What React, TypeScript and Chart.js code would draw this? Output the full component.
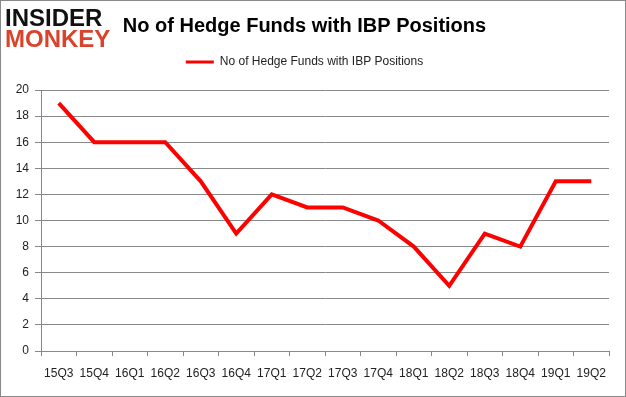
import React, { useEffect, useRef } from "react";
import { Chart, registerables } from "chart.js";

Chart.register(...registerables);

const categories = ["15Q3", "15Q4", "16Q1", "16Q2", "16Q3", "16Q4", "17Q1", "17Q2", "17Q3", "17Q4", "18Q1", "18Q2", "18Q3", "18Q4", "19Q1", "19Q2"];
const hedgeFunds = [19, 16, 16, 16, 13, 9, 12, 11, 11, 10, 8, 5, 9, 8, 13, 13];
const seriesLabel = "No of Hedge Funds with IBP Positions";
const titleText = "No of Hedge Funds with IBP Positions";

const FONT = "'Liberation Sans', Arial, sans-serif";

export default function App() {
  const ref = useRef<HTMLCanvasElement | null>(null);

  useEffect(() => {
    if (!ref.current) return;
    const legendPatch = {
      id: "legendPatch",
      afterInit(chart: any) {
        const lg = chart.legend;
        if (lg && !lg.__patched) {
          const orig = lg.fit.bind(lg);
          lg.fit = function () {
            orig();
            this.height = 44;
          };
          lg.__patched = true;
        }
      },
    };
    const chart = new Chart(ref.current, {
      type: "line",
      data: {
        labels: categories,
        datasets: [
          {
            label: seriesLabel,
            data: hedgeFunds,
            borderColor: "#ff0000",
            backgroundColor: "#ff0000",
            borderWidth: 4,
            pointRadius: 0,
            tension: 0,
            fill: false,
          },
        ],
      },
      options: {
        animation: false,
        responsive: false,
        layout: { padding: { left: 0, right: 17, top: 0, bottom: 0 } },
        plugins: {
          title: {
            display: true,
            text: titleText,
            color: "#000",
            font: { family: FONT, size: 20, weight: "bold" },
            padding: { top: 14, bottom: 8 },
          },
          legend: {
            display: true,
            labels: {
              font: { family: FONT, size: 12 },
              color: "#222",
              usePointStyle: true,
              pointStyleWidth: 28,
              padding: 10,
              generateLabels: (c: any) =>
                Chart.defaults.plugins.legend.labels.generateLabels(c).map((it: any) => ({
                  ...it,
                  pointStyle: "line",
                  lineWidth: 3,
                  strokeStyle: "#ff0000",
                })),
            },
          },
          tooltip: { enabled: false },
        },
        scales: {
          x: {
            offset: true,
            grid: { offset: true, drawOnChartArea: false, tickLength: 5, color: "#888" },
            border: { color: "#888" },
            ticks: { font: { family: FONT, size: 12 }, color: "#222", padding: 10, maxRotation: 0, autoSkip: false },
            afterFit: (s: any) => {
              s.height = 46;
            },
          },
          y: {
            min: 0,
            max: 20,
            ticks: { stepSize: 2, font: { family: FONT, size: 12 }, color: "#222", padding: 6 },
            grid: { color: "#888", tickLength: 6 },
            border: { color: "#888" },
            afterFit: (s: any) => {
              s.width = 41;
            },
          },
        },
      },
      plugins: [legendPatch],
    } as any);
    return () => chart.destroy();
  }, []);

  return (
    <div style={{ position: "absolute", left: 0, top: 0, width: 626, height: 397, background: "#fff" }}>
      <canvas ref={ref} width={626} height={397} style={{ position: "absolute", left: 0, top: 0 }} />
      <div
        style={{
          position: "absolute",
          left: 0,
          top: 0,
          width: 624,
          height: 395,
          border: "1px solid #888",
          pointerEvents: "none",
        }}
      />
      <div style={{ position: "absolute", left: 5, top: 7, fontFamily: FONT, fontWeight: 900, lineHeight: "21px" }}>
        <div style={{ fontSize: 24, color: "#111", letterSpacing: 0 }}>INSIDER</div>
        <div style={{ fontSize: 24, color: "#d9432c", letterSpacing: 0 }}>MONKEY</div>
      </div>
    </div>
  );
}
